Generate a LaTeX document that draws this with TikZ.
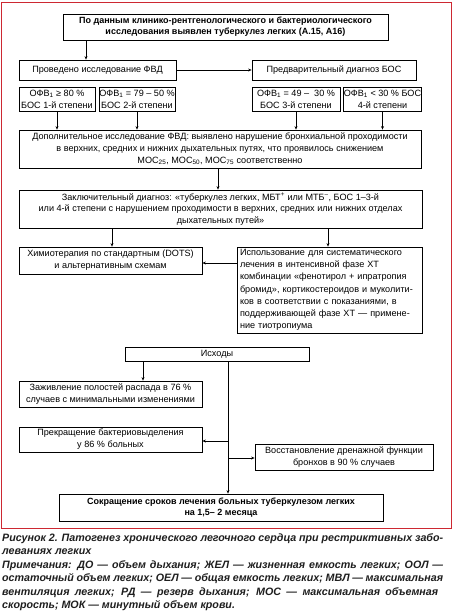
\documentclass[tikz,border=0pt]{standalone}
\usepackage{fontspec}
\setmainfont{Liberation Sans}
\usetikzlibrary{arrows.meta}
\definecolor{framered}{RGB}{205,40,50}
\definecolor{captxt}{RGB}{30,30,30}
\begin{document}
\begin{tikzpicture}[x=1pt,y=-1pt,
  box/.style={draw, line width=0.75pt, inner sep=0pt, align=center,
    font=\fontsize{9.1}{11.8}\selectfont},
  arr/.style={line width=0.6pt, -{Stealth[length=3.5pt,width=3pt]}},
  capline/.style={anchor=base west, inner sep=0pt, text=captxt,
    font=\fontsize{10.7}{13}\selectfont\bfseries\itshape}]
\useasboundingbox (0,0) rectangle (453,611);
\draw[framered, line width=0.9pt] (1.5,2) rectangle (451.5,528);

\node[box, minimum width=325pt, minimum height=26pt, font=\fontsize{9}{11}\selectfont\bfseries] (top) at (225.5,27)
  {По данным клинико-рентгенологического и бактериологического\\исследования выявлен туберкулез легких (А.15, А16)};
\node[box, minimum width=157pt, minimum height=20pt] (fvd) at (97.5,70) {Проведено исследование ФВД};
\node[box, minimum width=164pt, minimum height=20pt] (bos) at (334,70) {Предварительный диагноз БОС};

\node[box, minimum width=76pt, minimum height=24pt] (o1) at (57,99) {ОФВ\textsubscript{1} ≥ 80 \%\\БОС 1-й степени};
\node[box, minimum width=76pt, minimum height=24pt] (o2) at (137,99) {ОФВ\textsubscript{1} = 79 – 50 \%\\БОС 2-й степени};
\node[box, minimum width=88pt, minimum height=24pt] (o3) at (296,99) {ОФВ\textsubscript{1} = 49 –\ \ 30 \%\\БОС 3-й степени};
\node[box, minimum width=77pt, minimum height=24pt] (o4) at (382.5,99) {ОФВ\textsubscript{1} < 30 \% БОС\\4-й степени};

\node[box, minimum width=402pt, minimum height=38pt] (dop) at (220,149)
  {Дополнительное исследование ФВД: выявлено нарушение бронхиальной проходимости\\
   в верхних, средних и нижних дыхательных путях, что проявилось снижением\\
   МОС\textsubscript{25}, МОС\textsubscript{50}, МОС\textsubscript{75} соответственно};
\node[box, minimum width=403pt, minimum height=38pt] (fin) at (220.5,209)
  {Заключительный диагноз: «туберкулез легких, МБТ\textsuperscript{+} или МТБ\textsuperscript{–}, БОС 1–3-й\\
   или 4-й степени с нарушением проходимости в верхних, средних или нижних отделах\\
   дыхательных путей»};

\node[box, minimum width=183pt, minimum height=27pt] (chemo) at (110.5,260.5)
  {Химиотерапия по стандартным (DOTS)\\и альтернативным схемам};
\node[box, minimum width=185pt, minimum height=86pt, align=left, text width=179pt, inner xsep=3pt,
  font=\fontsize{9.1}{12.2}\selectfont] (use) at (329.5,290)
  {Использование для систематического\\лечения в интенсивной фазе ХТ\\комбинации «фенотирол + ипратропия\\бромид», кортикостероидов и муколити-\\ков в соответствии с показаниями, в\\поддерживающей фазе ХТ — примене-\\ние тиотропиума};

\node[box, minimum width=184pt, minimum height=14pt] (ish) at (217,354) {Исходы};
\node[box, minimum width=183pt, minimum height=26pt] (zaj) at (110.5,394)
  {Заживление полостей распада в 76 \%\\случаев с минимальными изменениями};
\node[box, minimum width=183pt, minimum height=25pt] (prek) at (110.5,439.5)
  {Прекращение бактериовыделения\\у 86 \% больных};
\node[box, minimum width=178pt, minimum height=26pt] (vos) at (344,457)
  {Восстановление дренажной функции\\бронхов в 90 \% случаев};
\node[box, minimum width=324pt, minimum height=27pt, font=\fontsize{9}{11.6}\selectfont\bfseries] (sok) at (221,507.5)
  {Сокращение сроков лечения больных туберкулезом легких\\на 1,5– 2 месяца};

% connectors
\draw[arr] (top.south -| 86,0) -- (fvd.north -| 86,0);
\draw[arr] (fvd.east) -- (bos.west);
\draw[arr] (o1.south) -- (o1.south |- dop.north);
\draw[arr] (o2.south) -- (o2.south |- dop.north);
\draw[arr] (o3.south) -- (o3.south |- dop.north);
\draw[arr] (o4.south) -- (o4.south |- dop.north);
\draw[arr] (dop.south -| 218,0) -- (fin.north -| 218,0);
\draw[arr] (fin.south -| 112,0) -- (chemo.north -| 112,0);
\draw[arr] (fin.south -| 328,0) -- (use.north -| 328,0);
\draw[arr] (use.west |- 0,263) -- (chemo.east |- 0,263);
\draw[arr] (ish.south -| 143,0) -- (zaj.north -| 143,0);
\coordinate (b1) at (228,441);
\coordinate (b2) at (228,458);
\draw[arr] (ish.south -| 228,0) -- (sok.north -| 228,0);
\draw[arr] (b1) -- (prek.east |- b1);
\draw[arr] (b2) -- (vos.west |- b2);

% caption
\node[capline] (c1) at (2,541) {\makebox[441pt][s]{Рисунок 2. Патогенез хронического легочного сердца при рестриктивных забо-}};
\node[capline] (c2) at (2,554.5) {леваниях легких};
\node[capline] (c3) at (2,568) {\makebox[441pt][s]{Примечания: ДО — объем дыхания; ЖЕЛ — жизненная емкость легких; ООЛ —}};
\node[capline] (c4) at (2,581.5) {\makebox[441pt][s]{остаточный объем легких; ОЕЛ — общая емкость легких; МВЛ — максимальная}};
\node[capline] (c5) at (2,595) {\makebox[436pt][s]{вентиляция легких; РД — резерв дыхания; МОС — максимальная объемная}};
\node[capline] (c6) at (2,608.5) {скорость; МОК — минутный объем крови.};
\end{tikzpicture}
\end{document}
